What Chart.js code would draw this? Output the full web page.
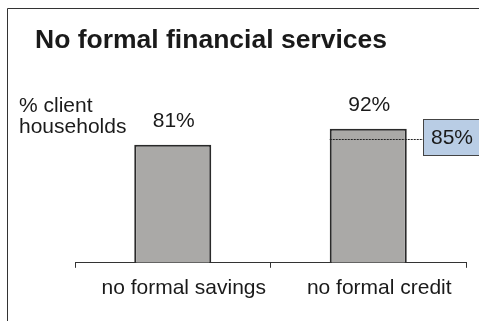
<!DOCTYPE html>
<html>
<head>
<meta charset="utf-8">
<script src="https://cdn.jsdelivr.net/npm/chart.js@4/dist/chart.umd.min.js"></script>
<style>
  body { margin: 0; background: #fff; }
  #wrap { width: 479px; height: 321px; position: relative; }
</style>
</head>
<body>
<div id="wrap"><canvas id="chart" width="479" height="321"></canvas></div>
<script>
// data
var categories = ['no formal savings', 'no formal credit'];
var shares = [81, 92];
var benchmark = [85]; // marker shown beside the credit bar
var titleText = 'No formal financial services';
var unitLines = ['% client', 'households'];

var FONT = '"Liberation Sans", Arial, sans-serif';
var INK = '#1a1a1a';

// draws frame, title, unit note, value labels and the 85% marker
var decor = {
  id: 'decor',
  beforeDraw: function(chart) {
    var c = chart.ctx;
    c.save();
    c.fillStyle = '#fff';
    c.fillRect(0, 0, chart.width, chart.height);
    c.strokeStyle = '#333';
    c.lineWidth = 1;
    c.beginPath();
    c.moveTo(7.5, chart.height);
    c.lineTo(7.5, 8.5);
    c.lineTo(chart.width, 8.5);
    c.stroke();
    c.restore();
  },
  afterDatasetsDraw: function(chart) {
    var c = chart.ctx;
    var y = chart.scales.y;
    var meta = chart.getDatasetMeta(0);
    c.save();
    c.fillStyle = INK;
    c.textBaseline = 'alphabetic';

    c.font = 'bold 26.5px ' + FONT;
    c.textAlign = 'left';
    c.fillText(titleText, 35, 48);

    c.font = '21px ' + FONT;
    c.fillText(unitLines[0], 19, 112);
    c.fillText(unitLines[1], 19, 133);

    c.textAlign = 'center';
    meta.data.forEach(function(bar, i) {
      c.fillText(shares[i] + '%', bar.x + 1, bar.y - 18);
    });

    // benchmark marker on the second bar
    var b = meta.data[1];
    var by = Math.round(y.getPixelForValue(benchmark[0])) + 0.5;
    var boxX = 423.5, boxY = 119.5, boxW = 60, boxH = 36;
    c.strokeStyle = '#222';
    c.lineWidth = 1;
    c.setLineDash([2, 1]);
    c.beginPath();
    c.moveTo(b.x - b.width / 2, by);
    c.lineTo(boxX, by);
    c.stroke();
    c.setLineDash([]);
    c.fillStyle = '#b9cde5';
    c.fillRect(boxX, boxY, boxW, boxH);
    c.strokeStyle = '#444';
    c.strokeRect(boxX, boxY, boxW, boxH);
    c.fillStyle = INK;
    c.textAlign = 'left';
    c.fillText(benchmark[0] + '%', 431, 144);
    c.restore();
  }
};

var ctx = document.getElementById('chart');
var chart = new Chart(ctx, {
  type: 'bar',
  data: {
    labels: categories,
    datasets: [{
      data: shares,
      backgroundColor: '#aaa9a7',
      borderColor: '#2a2a2a',
      borderWidth: 2,
      borderSkipped: 'bottom',
      categoryPercentage: 1,
      barPercentage: 0.394
    }]
  },
  options: {
    responsive: false,
    animation: false,
    layout: { padding: { left: 75, right: 13, top: 117, bottom: 12 } },
    plugins: { legend: { display: false }, tooltip: { enabled: false } },
    scales: {
      x: {
        offset: true,
        grid: { display: true, drawOnChartArea: false, drawTicks: true, tickLength: 5, color: '#333', offset: true },
        border: { color: '#333', width: 1 },
        ticks: { color: INK, font: { family: FONT, size: 21 }, padding: 8, labelOffset: 11, maxRotation: 0 }
      },
      y: { display: false, min: 0, max: 100 }
    }
  },
  plugins: [decor]
});
</script>
</body>
</html>
